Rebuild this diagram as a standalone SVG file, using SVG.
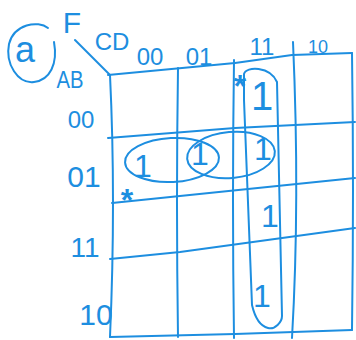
<svg xmlns="http://www.w3.org/2000/svg" width="356" height="340" viewBox="0 0 356 340">
<style>
.ln{fill:none;stroke:#1d8ee0;stroke-width:2;stroke-linecap:round;stroke-linejoin:round}
.t{fill:#1d8ee0;font-family:"Liberation Sans","DejaVu Sans",sans-serif;text-anchor:middle}
.lab{font-size:24px}
.one{font-size:32px}
.star{font-size:32px;font-weight:bold}
</style>
<rect width="356" height="340" fill="#ffffff"/>
<g id="title">
<path class="ln" d="M48,28 C38,20 14,24 9,44 C5,64 18,84 34,82 C50,80 58,64 54,42"/>
<text class="t" x="25" y="62" style="font-size:36px">a</text>
<text class="t" x="72" y="33" style="font-size:30px">F</text>
<text class="t lab" x="112" y="50">CD</text>
<text class="t lab" x="70" y="88" textLength="27" lengthAdjust="spacingAndGlyphs">AB</text>
<path class="ln" d="M75,40 L110,75"/>
</g>
<g id="grid">
<path class="ln" d="M108,75 L235,63 L292,55 L352,53"/>
<path class="ln" d="M110,75 Q116,200 110,337"/>
<path class="ln" d="M110,337 L235,334 L352,330"/>
<path class="ln" d="M352,53 Q354,190 352,330"/>
<path class="ln" d="M178,68 Q176,200 178,337"/>
<path class="ln" d="M234,60 Q232,200 234,338"/>
<path class="ln" d="M293,42 Q300,200 292,338"/>
<path class="ln" d="M108,138 L235,128 L355,122"/>
<path class="ln" d="M112,203 L180,196 L355,178"/>
<path class="ln" d="M110,259 L180,252 L355,228"/>
</g>
<g id="col-labels">
<text class="t lab" x="150" y="65">00</text>
<text class="t lab" x="199" y="65">01</text>
<text class="t lab" x="262" y="55">11</text>
<text class="t lab" x="318" y="53" style="font-size:18px">10</text>
</g>
<g id="row-labels">
<text class="t lab" x="81" y="128">00</text>
<text class="t" x="84" y="187" style="font-size:30px">01</text>
<text class="t" x="85" y="257" style="font-size:28px">11</text>
<text class="t" x="96" y="325" style="font-size:30px">10</text>
</g>
<g id="cells">
<text class="t one" x="262" y="110" style="font-size:40px">1</text>
<text class="t one" x="143" y="177">1</text>
<text class="t one" x="200" y="165">1</text>
<text class="t one" x="263" y="160">1</text>
<text class="t one" x="270" y="227">1</text>
<text class="t one" x="262" y="307">1</text>
<text class="t star" x="240" y="97">*</text>
<text class="t star" x="127" y="211">*</text>
</g>
<g id="groups">
<ellipse class="ln" cx="172" cy="160" rx="47" ry="22" transform="rotate(-3 172 160)"/>
<ellipse class="ln" cx="231" cy="155" rx="44" ry="23" transform="rotate(-5 231 155)"/>
<path class="ln" d="M244,74 C246,66 270,66 277,82 L282,316 C282,322 275,330 268,328 C260,326 255,318 252,305 L244,100 Z"/>
</g>
</svg>
